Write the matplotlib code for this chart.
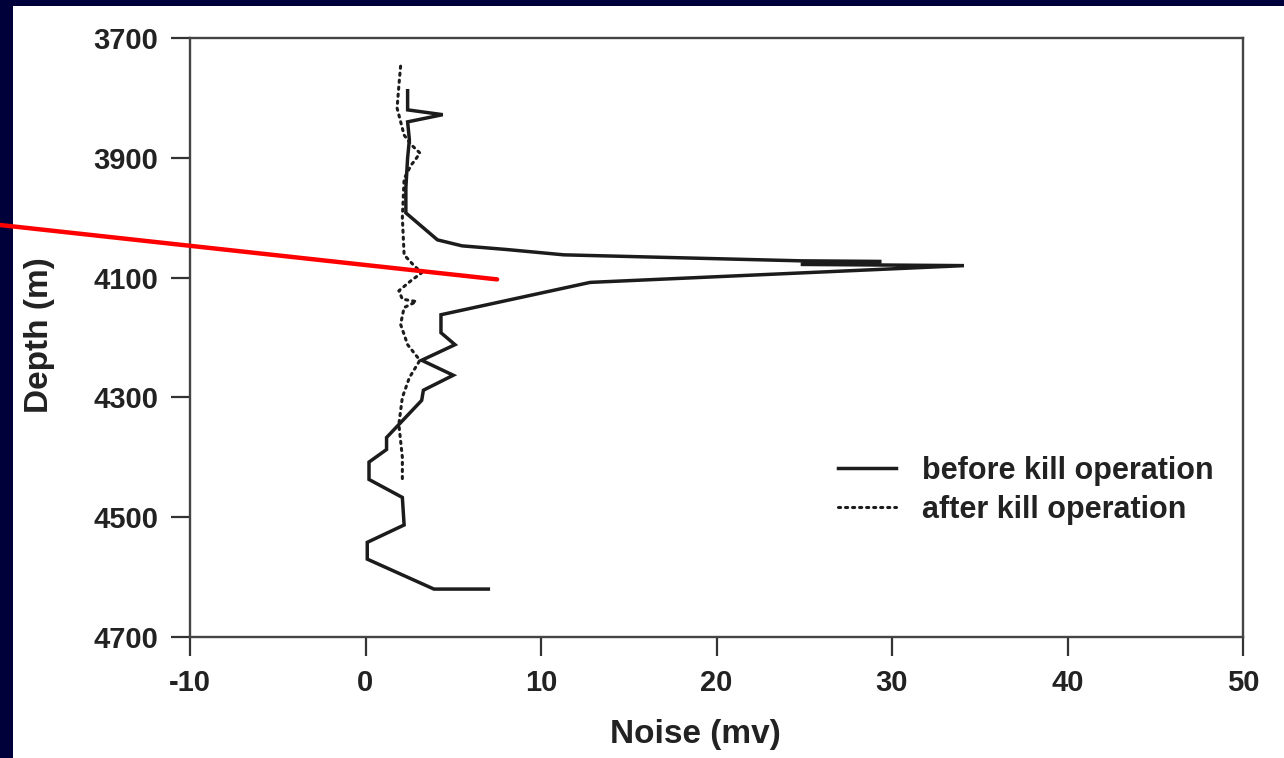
import matplotlib
matplotlib.use("Agg")
import matplotlib.pyplot as plt
from matplotlib.patches import Rectangle

# Noise log readings (mv) against depth (m)
before_noise = [2.4, 2.4, 4.4, 2.4, 2.5, 2.4, 2.3, 2.3, 4.1, 5.5, 8.0, 11.3, 24.8, 29.4,
                24.8, 34.1, 12.8, 4.3, 4.3, 5.1, 3.2, 5.0, 3.3, 3.2, 1.2, 1.2, 0.2, 0.2,
                2.1, 2.2, 0.1, 0.1, 3.9, 7.0]
before_depth = [3788, 3820, 3828, 3840, 3870, 3900, 3950, 3992, 4037, 4047, 4053, 4062, 4072, 4073,
                4078, 4080, 4108, 4162, 4192, 4212, 4238, 4263, 4288, 4305, 4367, 4387, 4408, 4437,
                4467, 4513, 4542, 4570, 4620, 4620]

after_noise = [2.0, 1.9, 1.8, 2.2, 2.6, 3.1, 2.8, 2.6, 2.2, 2.1, 2.2, 2.7, 3.2, 2.6, 1.9,
               2.1, 2.9, 2.2, 2.0, 2.4, 3.1, 2.5, 2.1, 1.9, 2.1, 2.1]
after_depth = [3747, 3780, 3817, 3862, 3878, 3892, 3905, 3912, 3935, 4000, 4062, 4078, 4092, 4105, 4122,
               4136, 4140, 4150, 4178, 4212, 4238, 4267, 4300, 4345, 4400, 4438]

x_ticks = [-10, 0, 10, 20, 30, 40, 50]
y_ticks = [3700, 3900, 4100, 4300, 4500, 4700]
series_labels = ["before kill operation", "after kill operation"]

# annotation pointer target (noise, depth)
pointer_noise, pointer_depth = 7.5, 4103

plt.rcParams['font.family'] = ['Liberation Sans', 'DejaVu Sans']
plt.rcParams['font.weight'] = 'bold'
plt.rcParams['axes.unicode_minus'] = False

W, H = 1284, 758
fig = plt.figure(figsize=(W / 100, H / 100), dpi=100, facecolor='#00003a')

# white slide panel behind the chart
panel = Rectangle((13 / W, 0), 1 - 13 / W, 1 - 6 / H, transform=fig.transFigure,
                  facecolor='white', edgecolor='none', zorder=-10)
fig.patches.append(panel)

ax = fig.add_axes([190 / W, 1 - 637 / H, 1053 / W, 599 / H])
ax.set_facecolor('none')
ax.set_zorder(1)

ink = '#1c1c1c'
ax.plot(before_noise, before_depth, color=ink, lw=2.5, solid_joinstyle='miter',
        label=series_labels[0])
ax.plot(after_noise, after_depth, color=ink, lw=2.2, linestyle=(0, (0.7, 1.6)),
        dash_capstyle='round', label=series_labels[1])

ax.set_xlim(-10, 50)
ax.set_ylim(4700, 3700)
ax.set_xticks(x_ticks)
ax.set_yticks(y_ticks)
ax.tick_params(direction='out', length=14, width=1.6, color='#333333', labelsize=21,
               labelcolor='#222222', pad=9)
for sp in ax.spines.values():
    sp.set_color('#444444')
    sp.set_linewidth(1.7)

ax.set_xlabel("Noise (mv)", fontsize=24, fontweight='bold', color='#222222',
              ha='center', va='center')
ax.xaxis.set_label_coords(0.48, -0.162)
ax.set_ylabel("Depth (m)", fontsize=24, fontweight='bold', color='#222222',
              ha='center', va='center')
ax.yaxis.set_label_coords(-0.1425, 0.504)

leg = ax.legend(loc='center left', bbox_to_anchor=(0.615, 0.245), frameon=False,
                fontsize=22, handlelength=1.9, handletextpad=0.85, labelspacing=0.3,
                borderaxespad=0, borderpad=0)
for t in leg.get_texts():
    t.set_color('#222222')

# red pointer line
ax.annotate("", xy=(pointer_noise, pointer_depth), xycoords='data',
            xytext=(0, 1 - 225 / H), textcoords='figure fraction',
            arrowprops=dict(arrowstyle='-', color='#ff0000', lw=3.2,
                            shrinkA=0, shrinkB=0),
            annotation_clip=False)

fig.savefig("out.png", dpi=100, facecolor=fig.get_facecolor())
